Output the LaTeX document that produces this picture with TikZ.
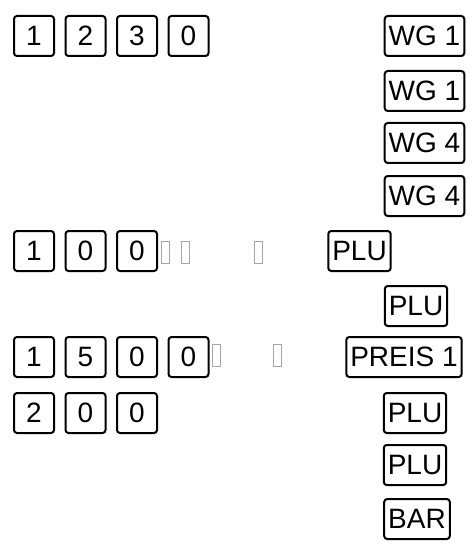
\documentclass[tikz,border=0pt]{standalone}
\usepackage{fontspec}
\setmainfont{Liberation Sans}
\usepackage{tikz}
\usetikzlibrary{positioning}
\tikzstyle{key} = [rectangle, rounded corners=3pt, minimum width=40pt, minimum height=40pt,
    inner sep=0pt, text centered, draw=black, line width=2pt, font=\fontsize{28}{32}\selectfont]
\tikzstyle{fkey} = [rectangle, rounded corners=3pt, minimum height=40pt, inner xsep=4pt,
    inner ysep=0pt, text centered, draw=black, line width=2pt, font=\fontsize{28}{32}\selectfont]
\tikzstyle{tofu} = [rectangle, minimum width=8pt, minimum height=22pt, inner sep=0pt,
    draw=gray!70, line width=0.8pt]

\begin{document}
\begin{tikzpicture}[x=1pt, y=-1pt, node distance=9.5pt]
\useasboundingbox (0,0) rectangle (473,548);
% Zeile 1
\node (k11) [key] at (34,36) {1};
\node (k12) [key, right=of k11] {2};
\node (k13) [key, right=of k12] {3};
\node (k14) [key, right=of k13] {0};
\node (wg1) [fkey] at (424.5,36) {WG 1};
\node (wg2) [fkey] at (424.5,91) {WG 1};
\node (wg3) [fkey] at (424.5,143) {WG 4};
\node (wg4) [fkey] at (424.5,196) {WG 4};
% Zeile 2
\node (k21) [key] at (34,251) {1};
\node (k22) [key, right=of k21] {0};
\node (k23) [key, right=of k22] {0};
\node (t21) [tofu] at (165.5,252) {};
\node (t22) [tofu] at (185,252) {};
\node (t23) [tofu] at (258.5,252) {};
\node (plu1) [fkey] at (359.5,251) {PLU};
\node (plu2) [fkey] at (416,306) {PLU};
% Zeile 3
\node (k31) [key] at (34,357) {1};
\node (k32) [key, right=of k31] {5};
\node (k33) [key, right=of k32] {0};
\node (k34) [key, right=of k33] {0};
\node (t31) [tofu] at (216.5,355) {};
\node (t32) [tofu] at (277.5,355) {};
\node (preis) [fkey] at (404,357) {PREIS 1};
% Zeile 4
\node (k41) [key] at (34,413) {2};
\node (k42) [key, right=of k41] {0};
\node (k43) [key, right=of k42] {0};
\node (plu3) [fkey] at (415,413) {PLU};
\node (plu4) [fkey] at (415,465) {PLU};
\node (bar) [fkey] at (417,519) {BAR};
\end{tikzpicture}
\end{document}
